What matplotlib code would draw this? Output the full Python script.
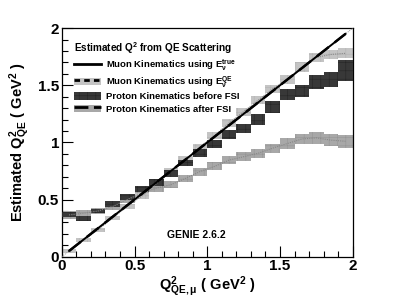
import numpy as np
import matplotlib
matplotlib.use("Agg")
from matplotlib import pyplot as plt
from matplotlib.patches import Patch, Rectangle
from matplotlib.lines import Line2D
from matplotlib.legend_handler import HandlerPatch

# bin edges of Q2_QE,mu (GeV^2)
bin_lo = [0.0, 0.1, 0.2, 0.3, 0.4, 0.5, 0.6, 0.7, 0.8, 0.9,
          1.0, 1.1, 1.2, 1.3, 1.4, 1.5, 1.6, 1.7, 1.8, 1.9]
bin_width = 0.1

# muon kinematics, E true
muon_true = [0.05, 0.15, 0.25, 0.35, 0.45, 0.55, 0.65, 0.75, 0.85, 0.95,
             1.05, 1.15, 1.25, 1.35, 1.45, 1.55, 1.65, 1.75, 1.85, 1.95]

# muon kinematics, E QE
muon_qe = [0.05, 0.146, 0.235, 0.34, 0.44, 0.53, 0.64, 0.75, 0.85, 0.96,
           1.06, 1.17, 1.27, 1.37, 1.47, 1.55, 1.66, 1.745, 1.77, 1.78]
muon_qe_err = [0.02, 0.02, 0.02, 0.02, 0.025, 0.025, 0.025, 0.03, 0.03, 0.03,
               0.03, 0.035, 0.035, 0.035, 0.035, 0.04, 0.04, 0.04, 0.04, 0.045]

# proton kinematics before FSI
proton_before = [0.37, 0.335, 0.40, 0.46, 0.525, 0.59, 0.65, 0.73, 0.82, 0.905,
                 0.99, 1.07, 1.12, 1.20, 1.31, 1.42, 1.45, 1.53, 1.55, 1.63]
proton_before_err = [0.02, 0.02, 0.02, 0.025, 0.025, 0.025, 0.03, 0.03, 0.03, 0.035,
                     0.035, 0.04, 0.04, 0.045, 0.05, 0.05, 0.055, 0.06, 0.065, 0.095]

# proton kinematics after FSI
proton_after = [0.365, 0.38, 0.40, 0.44, 0.50, 0.555, 0.60, 0.63, 0.685, 0.745,
                0.79, 0.845, 0.875, 0.905, 0.95, 0.99, 1.03, 1.04, 1.02, 1.01]
proton_after_err = [0.035, 0.03, 0.03, 0.03, 0.03, 0.03, 0.03, 0.03, 0.03, 0.035,
                    0.035, 0.035, 0.04, 0.04, 0.04, 0.045, 0.045, 0.05, 0.05, 0.055]

light = "#c4c4c4"
lower = "#a8a8a8"
dark = "#383838"

plt.rcParams['font.family'] = ['Liberation Sans', 'DejaVu Sans']
plt.rcParams['mathtext.fontset'] = 'custom'
plt.rcParams['mathtext.rm'] = 'Liberation Sans:bold'
plt.rcParams['mathtext.it'] = 'Liberation Sans:bold'
plt.rcParams['mathtext.bf'] = 'Liberation Sans:bold'
plt.rcParams['hatch.linewidth'] = 0.4

fig = plt.figure(figsize=(4.15, 3.03), dpi=100)
ax = fig.add_axes([0.149, 0.153, 0.701, 0.754])

centers = np.array(bin_lo) + bin_width / 2


def draw_band(vals, errs, color, hatch_color, z):
    for x0, v, e in zip(bin_lo, vals, errs):
        ax.bar(x0, 2 * e, width=bin_width, bottom=v - e, align='edge',
               color=color, edgecolor=hatch_color, hatch='++', linewidth=0, zorder=z)


draw_band(proton_after, proton_after_err, lower, "#959595", 2)
draw_band(proton_before, proton_before_err, dark, "#262626", 3)
draw_band(muon_qe, muon_qe_err, light, "#b2b2b2", 2)

# central lines of the bands
ax.plot(centers, proton_after, color="#888888", lw=0.8, ls=(0, (1, 1)), zorder=4)
ax.plot(centers, muon_qe, color="#888888", lw=0.8, ls=(0, (1, 1)), zorder=4)

# y = x reference
ax.plot([0, 2], [0, 2], color="#999999", lw=0.7, ls=(0, (1, 1)), zorder=5)
ax.plot(centers, muon_true, color="black", lw=1.4, zorder=6)
ax.plot(centers, muon_true, color="black", lw=1.8, ls=(0, (6, 3)), zorder=6)

ax.set_xlim(0, 2)
ax.set_ylim(0, 2)
ax.set_xticks([0, 0.5, 1, 1.5, 2])
ax.set_xticklabels(["0", "0.5", "1", "1.5", "2"])
ax.set_yticks([0, 0.5, 1, 1.5, 2])
ax.set_yticklabels(["0", "0.5", "1", "1.5", "2"])
ax.set_xticks(np.arange(0, 2.01, 0.1), minor=True)
ax.set_yticks(np.arange(0, 2.01, 0.1), minor=True)
ax.tick_params(which='both', direction='in', top=False, right=False,
               labelsize=11, pad=2)
ax.tick_params(which='major', length=8, width=0.8)
ax.tick_params(which='minor', length=4, width=0.8)
for lab in ax.get_xticklabels() + ax.get_yticklabels():
    lab.set_fontweight('bold')
for s in ax.spines.values():
    s.set_linewidth(0.9)

ax.set_xlabel(r"Q$^{2}_{QE,\mu}$ ( GeV$^{2}$ )", fontsize=10.5,
              fontweight='bold', labelpad=1)
ax.set_ylabel(r"Estimated Q$^{2}_{QE}$ ( GeV$^{2}$ )", fontsize=10.5,
              fontweight='bold', labelpad=4)

ax.text(0.72, 0.16, "GENIE 2.6.2", fontsize=7.5, fontweight='bold')


# legend boxes a bit thinner than the row height
def small_box(legend, orig_handle, xdescent, ydescent, width, height, fontsize):
    h = 0.8 * fontsize
    return Rectangle((-xdescent, -ydescent + (height - h) / 2), width, h)


handles = [
    Line2D([], [], color='black', lw=2),
    (Patch(facecolor=light, edgecolor='none'),
     Line2D([], [], color='black', lw=2, ls=(0, (2, 1.5)))),
    Patch(facecolor=dark, edgecolor="#262626", hatch='++', lw=0),
    (Patch(facecolor=lower, edgecolor='none'),
     Line2D([], [], color='black', lw=2, ls=(0, (5, 2)))),
]
labels = [
    r"Muon Kinematics using E$_{\nu}^{true}$",
    r"Muon Kinematics using E$_{\nu}^{QE}$",
    "Proton Kinematics before FSI",
    "Proton Kinematics after FSI",
]
leg = ax.legend(handles, labels, title=r"Estimated Q$^{2}$ from QE Scattering",
                loc='upper left', bbox_to_anchor=(0.02, 0.975), frameon=False,
                fontsize=6.8, title_fontsize=7.2, handlelength=2.8,
                handleheight=1.55, labelspacing=0.05, handletextpad=0.6,
                borderpad=0.2,
                handler_map={Patch: HandlerPatch(patch_func=small_box)})
leg._legend_box.align = "left"
leg._legend_box.sep = 1
leg.get_title().set_fontweight('bold')
for t in leg.get_texts():
    t.set_fontweight('bold')

fig.savefig("out.png", dpi=100)
